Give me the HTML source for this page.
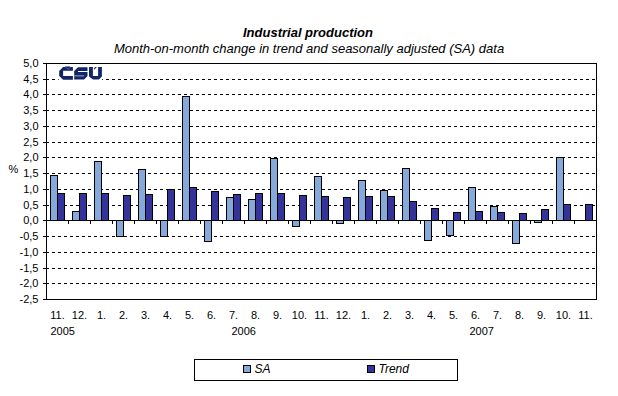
<!DOCTYPE html>
<html><head><meta charset="utf-8"><style>
html,body{margin:0;padding:0;background:#fff;}
body{width:618px;height:396px;overflow:hidden;position:relative;font-family:"Liberation Sans",sans-serif;}
svg{position:absolute;left:0;top:0;}
</style></head><body>
<svg width="618" height="396" viewBox="0 0 618 396" shape-rendering="crispEdges">
<g font-family="Liberation Sans, sans-serif" fill="#000">
<text x="308" y="36.5" font-size="13" font-weight="bold" font-style="italic" text-anchor="middle">Industrial production</text>
<text x="309" y="53.3" font-size="13" font-style="italic" text-anchor="middle">Month-on-month change in trend and seasonally adjusted (SA) data</text>
</g>
<path d="M46 79.5H596" stroke="#000" stroke-width="1" stroke-dasharray="3 3"/>
<path d="M46 94.5H596" stroke="#000" stroke-width="1" stroke-dasharray="3 3"/>
<path d="M46 110.5H596" stroke="#000" stroke-width="1" stroke-dasharray="3 3"/>
<path d="M46 126.5H596" stroke="#000" stroke-width="1" stroke-dasharray="3 3"/>
<path d="M46 142.5H596" stroke="#000" stroke-width="1" stroke-dasharray="3 3"/>
<path d="M46 157.5H596" stroke="#000" stroke-width="1" stroke-dasharray="3 3"/>
<path d="M46 173.5H596" stroke="#000" stroke-width="1" stroke-dasharray="3 3"/>
<path d="M46 189.5H596" stroke="#000" stroke-width="1" stroke-dasharray="3 3"/>
<path d="M46 205.5H596" stroke="#000" stroke-width="1" stroke-dasharray="3 3"/>
<path d="M46 236.5H596" stroke="#000" stroke-width="1" stroke-dasharray="3 3"/>
<path d="M46 252.5H596" stroke="#000" stroke-width="1" stroke-dasharray="3 3"/>
<path d="M46 268.5H596" stroke="#000" stroke-width="1" stroke-dasharray="3 3"/>
<path d="M46 283.5H596" stroke="#000" stroke-width="1" stroke-dasharray="3 3"/>
<rect x="50.5" y="175.5" width="7" height="45" fill="#86A9DC" stroke="#000"/>
<rect x="57.5" y="193.5" width="7" height="27" fill="#333399" stroke="#000"/>
<rect x="72.5" y="211.5" width="7" height="9" fill="#86A9DC" stroke="#000"/>
<rect x="79.5" y="193.5" width="7" height="27" fill="#333399" stroke="#000"/>
<rect x="94.5" y="161.5" width="7" height="59" fill="#86A9DC" stroke="#000"/>
<rect x="101.5" y="193.5" width="7" height="27" fill="#333399" stroke="#000"/>
<rect x="116.5" y="220.5" width="7" height="16" fill="#86A9DC" stroke="#000"/>
<rect x="123.5" y="195.5" width="7" height="25" fill="#333399" stroke="#000"/>
<rect x="138.5" y="169.5" width="7" height="51" fill="#86A9DC" stroke="#000"/>
<rect x="145.5" y="194.5" width="7" height="26" fill="#333399" stroke="#000"/>
<rect x="160.5" y="220.5" width="7" height="16" fill="#86A9DC" stroke="#000"/>
<rect x="167.5" y="189.5" width="7" height="31" fill="#333399" stroke="#000"/>
<rect x="182.5" y="96.5" width="7" height="124" fill="#86A9DC" stroke="#000"/>
<rect x="189.5" y="187.5" width="7" height="33" fill="#333399" stroke="#000"/>
<rect x="204.5" y="220.5" width="7" height="21" fill="#86A9DC" stroke="#000"/>
<rect x="211.5" y="191.5" width="7" height="29" fill="#333399" stroke="#000"/>
<rect x="226.5" y="197.5" width="7" height="23" fill="#86A9DC" stroke="#000"/>
<rect x="233.5" y="194.5" width="7" height="26" fill="#333399" stroke="#000"/>
<rect x="248.5" y="199.5" width="7" height="21" fill="#86A9DC" stroke="#000"/>
<rect x="255.5" y="193.5" width="7" height="27" fill="#333399" stroke="#000"/>
<rect x="270.5" y="158.5" width="7" height="62" fill="#86A9DC" stroke="#000"/>
<rect x="277.5" y="193.5" width="7" height="27" fill="#333399" stroke="#000"/>
<rect x="292.5" y="220.5" width="7" height="6" fill="#86A9DC" stroke="#000"/>
<rect x="299.5" y="195.5" width="7" height="25" fill="#333399" stroke="#000"/>
<rect x="314.5" y="176.5" width="7" height="44" fill="#86A9DC" stroke="#000"/>
<rect x="321.5" y="196.5" width="7" height="24" fill="#333399" stroke="#000"/>
<rect x="336.5" y="220.5" width="7" height="3" fill="#86A9DC" stroke="#000"/>
<rect x="343.5" y="197.5" width="7" height="23" fill="#333399" stroke="#000"/>
<rect x="358.5" y="180.5" width="7" height="40" fill="#86A9DC" stroke="#000"/>
<rect x="365.5" y="196.5" width="7" height="24" fill="#333399" stroke="#000"/>
<rect x="380.5" y="190.5" width="7" height="30" fill="#86A9DC" stroke="#000"/>
<rect x="387.5" y="196.5" width="7" height="24" fill="#333399" stroke="#000"/>
<rect x="402.5" y="168.5" width="7" height="52" fill="#86A9DC" stroke="#000"/>
<rect x="409.5" y="201.5" width="7" height="19" fill="#333399" stroke="#000"/>
<rect x="424.5" y="220.5" width="7" height="20" fill="#86A9DC" stroke="#000"/>
<rect x="431.5" y="208.5" width="7" height="12" fill="#333399" stroke="#000"/>
<rect x="446.5" y="220.5" width="7" height="15" fill="#86A9DC" stroke="#000"/>
<rect x="453.5" y="212.5" width="7" height="8" fill="#333399" stroke="#000"/>
<rect x="468.5" y="187.5" width="7" height="33" fill="#86A9DC" stroke="#000"/>
<rect x="475.5" y="211.5" width="7" height="9" fill="#333399" stroke="#000"/>
<rect x="490.5" y="206.5" width="7" height="14" fill="#86A9DC" stroke="#000"/>
<rect x="497.5" y="212.5" width="7" height="8" fill="#333399" stroke="#000"/>
<rect x="512.5" y="220.5" width="7" height="23" fill="#86A9DC" stroke="#000"/>
<rect x="519.5" y="213.5" width="7" height="7" fill="#333399" stroke="#000"/>
<rect x="534.5" y="220.5" width="7" height="2" fill="#86A9DC" stroke="#000"/>
<rect x="541.5" y="209.5" width="7" height="11" fill="#333399" stroke="#000"/>
<rect x="556.5" y="157.5" width="7" height="63" fill="#86A9DC" stroke="#000"/>
<rect x="563.5" y="204.5" width="7" height="16" fill="#333399" stroke="#000"/>
<rect x="585.5" y="204.5" width="7" height="16" fill="#333399" stroke="#000"/>
<path d="M46.5 63V300M43 63.5H597M596.5 63V300M43 299.5H597M43 220.5H596" stroke="#000" fill="none"/>
<path d="M43 63.5H46M43 79.5H46M43 94.5H46M43 110.5H46M43 126.5H46M43 142.5H46M43 157.5H46M43 173.5H46M43 189.5H46M43 205.5H46M43 220.5H46M43 236.5H46M43 252.5H46M43 268.5H46M43 283.5H46M43 299.5H46" stroke="#000"/>
<path d="M68.5 221V224M90.5 221V224M112.5 221V224M134.5 221V224M156.5 221V224M178.5 221V224M200.5 221V224M222.5 221V224M244.5 221V224M266.5 221V224M288.5 221V224M310.5 221V224M332.5 221V224M354.5 221V224M376.5 221V224M398.5 221V224M420.5 221V224M442.5 221V224M464.5 221V224M486.5 221V224M508.5 221V224M530.5 221V224M552.5 221V224M574.5 221V224" stroke="#000"/>
<g shape-rendering="auto"><g fill="#112567">
<rect x="58.6" y="64" width="43.6" height="16" fill="#fff"/>
<path d="M63.1 67H72.9V70.8H63.1V76H72.9V79.7H63.1L59.2 75.9V70.9Z"/>
<rect x="65" y="66" width="5.2" height="1" opacity="0.55"/>
<path d="M65.8 67.2L68 69.4L70.2 67.2" fill="none" stroke="#fff" stroke-width="0.7" opacity="0.45"/>
<path d="M78 67.2H87.5V71H78V72H87.5V76.1L84.1 79.5H74.2V71Z"/>
<rect x="74.2" y="75.3" width="9.9" height="1.1" fill="#fff" opacity="0.55"/>
<path d="M89 67H92.9V75.9H98.1V67H101.9V76.5L98.9 79.5H93L89 76.5Z"/>
<path d="M94 68.2L95.1 67H96.8L94.3 69.7Z"/>
<path d="M92.4 70L95 67.2" fill="none" stroke="#fff" stroke-width="0.6" opacity="0.4"/>
</g></g>
<g font-family="Liberation Sans, sans-serif" font-size="11" fill="#000">
<text x="38.5" y="67" text-anchor="end">5,0</text><text x="38.5" y="83" text-anchor="end">4,5</text><text x="38.5" y="98" text-anchor="end">4,0</text><text x="38.5" y="114" text-anchor="end">3,5</text><text x="38.5" y="130" text-anchor="end">3,0</text><text x="38.5" y="146" text-anchor="end">2,5</text><text x="38.5" y="161" text-anchor="end">2,0</text><text x="38.5" y="177" text-anchor="end">1,5</text><text x="38.5" y="193" text-anchor="end">1,0</text><text x="38.5" y="209" text-anchor="end">0,5</text><text x="38.5" y="224" text-anchor="end">0,0</text><text x="38.5" y="240" text-anchor="end">-0,5</text><text x="38.5" y="256" text-anchor="end">-1,0</text><text x="38.5" y="272" text-anchor="end">-1,5</text><text x="38.5" y="287" text-anchor="end">-2,0</text><text x="38.5" y="303" text-anchor="end">-2,5</text>
<text x="57.5" y="318.5" text-anchor="middle">11.</text><text x="79.5" y="318.5" text-anchor="middle">12.</text><text x="101.5" y="318.5" text-anchor="middle">1.</text><text x="123.5" y="318.5" text-anchor="middle">2.</text><text x="145.5" y="318.5" text-anchor="middle">3.</text><text x="167.5" y="318.5" text-anchor="middle">4.</text><text x="189.5" y="318.5" text-anchor="middle">5.</text><text x="211.5" y="318.5" text-anchor="middle">6.</text><text x="233.5" y="318.5" text-anchor="middle">7.</text><text x="255.5" y="318.5" text-anchor="middle">8.</text><text x="277.5" y="318.5" text-anchor="middle">9.</text><text x="299.5" y="318.5" text-anchor="middle">10.</text><text x="321.5" y="318.5" text-anchor="middle">11.</text><text x="343.5" y="318.5" text-anchor="middle">12.</text><text x="365.5" y="318.5" text-anchor="middle">1.</text><text x="387.5" y="318.5" text-anchor="middle">2.</text><text x="409.5" y="318.5" text-anchor="middle">3.</text><text x="431.5" y="318.5" text-anchor="middle">4.</text><text x="453.5" y="318.5" text-anchor="middle">5.</text><text x="475.5" y="318.5" text-anchor="middle">6.</text><text x="497.5" y="318.5" text-anchor="middle">7.</text><text x="519.5" y="318.5" text-anchor="middle">8.</text><text x="541.5" y="318.5" text-anchor="middle">9.</text><text x="563.5" y="318.5" text-anchor="middle">10.</text><text x="585.5" y="318.5" text-anchor="middle">11.</text>
<text x="8.5" y="172.7">%</text>
<text x="50.5" y="334.8">2005</text>
<text x="231.5" y="334.8">2006</text>
<text x="469.5" y="334.8">2007</text>
</g>
<rect x="194.5" y="359.5" width="263" height="21" fill="none" stroke="#000"/>
<rect x="243.5" y="365.5" width="7" height="7" fill="#86A9DC" stroke="#000"/>
<rect x="367.5" y="365.5" width="7" height="7" fill="#333399" stroke="#000"/>
<g font-family="Liberation Sans, sans-serif" font-size="12" font-style="italic" fill="#000">
<text x="254.5" y="372.6">SA</text>
<text x="378.5" y="372.6">Trend</text>
</g>
</svg>
</body></html>
